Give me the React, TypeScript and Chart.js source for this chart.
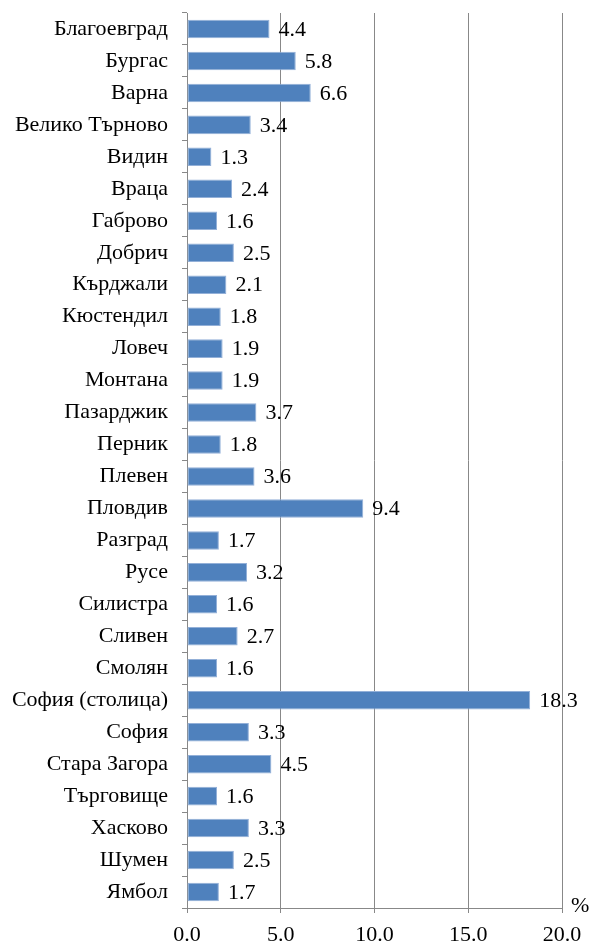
import React, { useEffect, useRef } from "react";
import { Chart, registerables } from "chart.js";

Chart.register(...registerables);

const categories = [
  "Благоевград", "Бургас", "Варна", "Велико Търново", "Видин", "Враца", "Габрово",
  "Добрич", "Кърджали", "Кюстендил", "Ловеч", "Монтана", "Пазарджик", "Перник",
  "Плевен", "Пловдив", "Разград", "Русе", "Силистра", "Сливен", "Смолян",
  "София (столица)", "София", "Стара Загора", "Търговище", "Хасково", "Шумен", "Ямбол",
];
const values = [
  4.4, 5.8, 6.6, 3.4, 1.3, 2.4, 1.6, 2.5, 2.1, 1.8, 1.9, 1.9, 3.7, 1.8, 3.6, 9.4,
  1.7, 3.2, 1.6, 2.7, 1.6, 18.3, 3.3, 4.5, 1.6, 3.3, 2.5, 1.7,
];
const unitLabel = "%";

const FONT = '"Liberation Serif", "Times New Roman", serif';

export default function App() {
  const ref = useRef<HTMLCanvasElement | null>(null);
  useEffect(() => {
    document.body.style.margin = "0";
    const canvas = ref.current!;
    const labelsPlugin = {
      id: "valLabels",
      afterDatasetsDraw(chart: any) {
        const ctx = chart.ctx;
        const meta = chart.getDatasetMeta(0);
        ctx.save();
        ctx.font = `22px ${FONT}`;
        ctx.fillStyle = "#000";
        ctx.textAlign = "left";
        ctx.textBaseline = "middle";
        meta.data.forEach((bar: any, i: number) => {
          ctx.fillText(values[i].toFixed(1), bar.x + 9, bar.y + 1);
        });
        ctx.textBaseline = "alphabetic";
        ctx.fillText(unitLabel, chart.chartArea.right + 9, chart.chartArea.bottom + 4);
        ctx.restore();
      },
    };
    const chart = new Chart(canvas, {
      type: "bar",
      data: {
        labels: categories,
        datasets: [
          {
            data: values,
            backgroundColor: "#4F81BD",
            borderColor: "#93b0d8",
            borderWidth: 1,
            borderSkipped: false,
            barPercentage: 0.58,
            categoryPercentage: 1,
          },
        ],
      },
      options: {
        indexAxis: "y",
        responsive: false,
        animation: false,
        events: [],
        layout: { padding: { top: 13, right: 27, left: 0, bottom: 0 } },
        plugins: { legend: { display: false }, tooltip: { enabled: false } },
        scales: {
          x: {
            min: 0,
            max: 20,
            ticks: {
              stepSize: 5,
              color: "#000",
              font: { family: FONT, size: 22 },
              padding: 9,
              maxRotation: 0,
              callback: (v: any) => Number(v).toFixed(1),
            },
            grid: { color: "#888888", lineWidth: 1, tickLength: 5, drawTicks: true },
            border: { color: "#888888", width: 1 },
            afterFit: (s: any) => { s.height = 33; s.paddingLeft = 0; s.paddingRight = 0; },
          },
          y: {
            ticks: {
              color: "#000",
              font: { family: FONT, size: 22 },
              padding: 14,
              autoSkip: false,
            },
            grid: { drawOnChartArea: false, drawTicks: true, tickLength: 5, color: "#888888", offset: true },
            border: { color: "#888888", width: 1 },
            afterFit: (s: any) => { s.width = 187; s.paddingTop = 0; s.paddingBottom = 0; },
          },
        },
      },
      plugins: [labelsPlugin],
    } as any);
    return () => chart.destroy();
  }, []);
  return (
    <div style={{ position: "absolute", left: 0, top: 0, width: 589, height: 941, background: "#fff" }}>
      <canvas ref={ref} width={589} height={941} />
    </div>
  );
}
